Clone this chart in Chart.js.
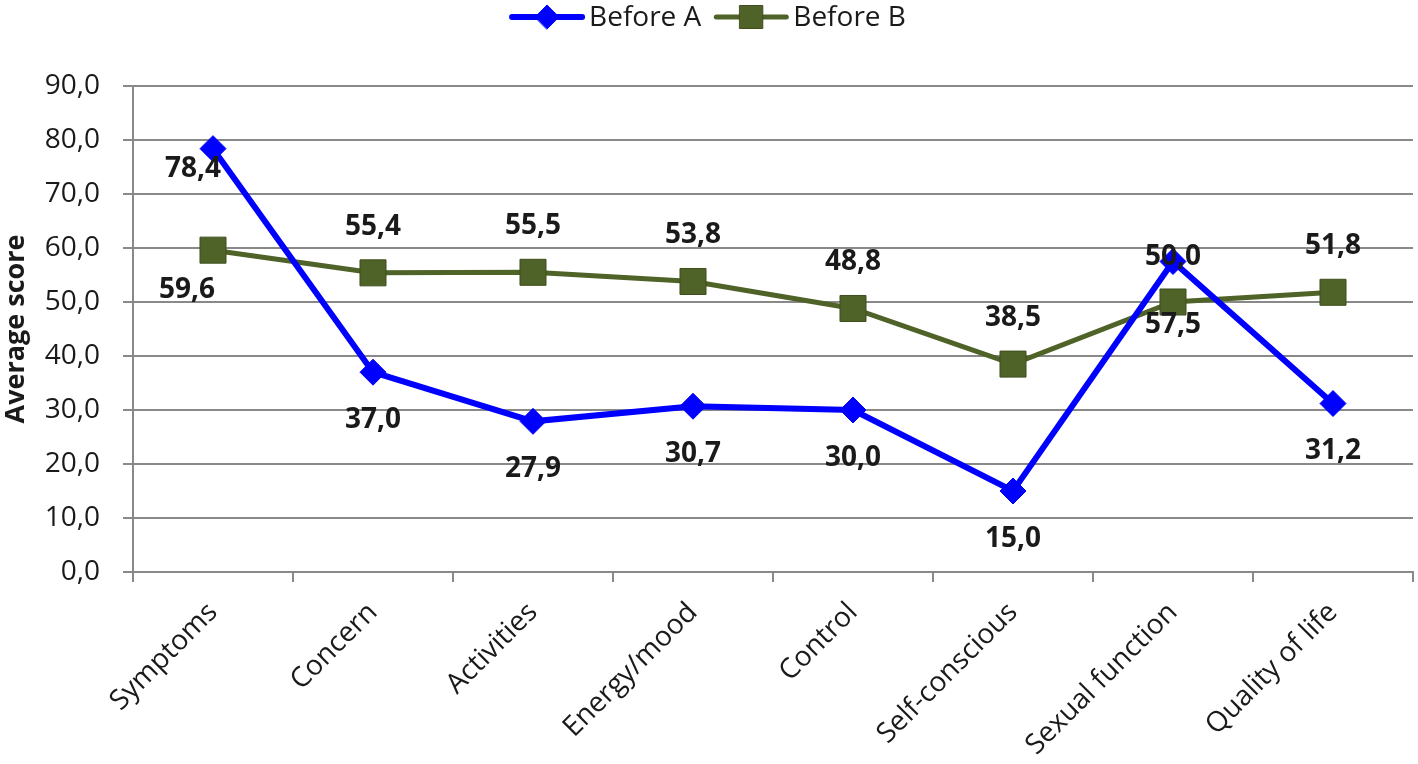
<!DOCTYPE html>
<html>
<head>
<meta charset="utf-8">
<title>Average score</title>
<script src="https://cdn.jsdelivr.net/npm/chart.js@4.4.1/dist/chart.umd.min.js"></script>
<style>
  html, body { margin: 0; padding: 0; background: #fff; }
  #wrap { width: 1418px; height: 764px; }
</style>
</head>
<body>
<div id="wrap"><canvas id="chart" width="1418" height="764"></canvas></div>
<script>
const categories = ["Symptoms", "Concern", "Activities", "Energy/mood", "Control", "Self-conscious", "Sexual function", "Quality of life"];
const beforeA = [78.4, 37.0, 27.9, 30.7, 30.0, 15.0, 57.5, 31.2];
const beforeB = [59.6, 55.4, 55.5, 53.8, 48.8, 38.5, 50.0, 51.8];
const yTicks = [0, 10, 20, 30, 40, 50, 60, 70, 80, 90];

// where each value label sits relative to its point (px)
const labelOffsetA = [[-20, 20], [0, 48], [0, 48], [0, 48], [0, 48], [0, 48], [0, 64], [0, 48]];
const labelOffsetB = [[-26, 40], [0, -46], [0, -46], [0, -46], [0, -46], [0, -46], [0, -45], [0, -46]];

const FONT = "'Open Sans', 'DejaVu Sans', sans-serif";
const BLUE = "#0000ff";
const GREEN = "#4f6228";
const GRID = "#898989";

function fmt(v) {
  return v.toFixed(1).replace(".", ",");
}

const valueLabels = {
  id: "valueLabels",
  afterDatasetsDraw(chart) {
    const ctx = chart.ctx;
    const offsets = [labelOffsetA, labelOffsetB];
    ctx.save();
    ctx.font = "bold 28px " + FONT;
    ctx.fillStyle = "#1a1a1a";
    ctx.textAlign = "center";
    ctx.textBaseline = "middle";
    chart.data.datasets.forEach((ds, i) => {
      const meta = chart.getDatasetMeta(i);
      meta.data.forEach((pt, j) => {
        const o = offsets[i][j];
        ctx.fillText(fmt(ds.data[j]), pt.x + o[0], pt.y + o[1]);
      });
    });
    ctx.restore();
  }
};

const topLegend = {
  id: "topLegend",
  afterDraw(chart) {
    const ctx = chart.ctx;
    const lineLen = 70;
    const gapText = 7;
    const gapItem = 15;
    const y = 17;
    ctx.save();
    ctx.font = "28px " + FONT;
    const items = chart.data.datasets.map(ds => ({ ds, w: ctx.measureText(ds.label).width }));
    let total = 0;
    items.forEach((it, i) => { total += lineLen + gapText + it.w + (i ? gapItem : 0); });
    let x = (chart.width - total) / 2;
    items.forEach((it, i) => {
      if (i) x += gapItem;
      const ds = it.ds;
      const cx = x + lineLen / 2;
      ctx.strokeStyle = ds.borderColor;
      ctx.lineWidth = ds.borderWidth;
      ctx.lineCap = "round";
      ctx.beginPath();
      ctx.moveTo(x, y);
      ctx.lineTo(x + lineLen, y);
      ctx.stroke();
      ctx.fillStyle = ds.pointBackgroundColor;
      ctx.strokeStyle = ds.pointBorderColor;
      ctx.lineWidth = 1;
      ctx.beginPath();
      if (ds.pointStyle === "rect") {
        ctx.rect(cx - 11.5, y - 11.5, 23, 23);
      } else {
        ctx.moveTo(cx - 12, y);
        ctx.lineTo(cx, y - 12);
        ctx.lineTo(cx + 12, y);
        ctx.lineTo(cx, y + 12);
        ctx.closePath();
      }
      ctx.fill();
      ctx.stroke();
      x += lineLen + gapText;
      ctx.fillStyle = "#1a1a1a";
      ctx.textAlign = "left";
      ctx.textBaseline = "middle";
      ctx.fillText(ds.label, x, y + 1);
      x += it.w;
    });
    ctx.restore();
  }
};

const chart = new Chart(document.getElementById("chart"), {
  type: "line",
  data: {
    labels: categories,
    datasets: [
      {
        label: "Before A",
        data: beforeA,
        borderColor: BLUE,
        backgroundColor: BLUE,
        borderWidth: 6,
        pointStyle: "rectRot",
        pointRadius: 13,
        pointBackgroundColor: BLUE,
        pointBorderColor: BLUE,
        pointBorderWidth: 1,
        tension: 0
      },
      {
        label: "Before B",
        data: beforeB,
        borderColor: GREEN,
        backgroundColor: GREEN,
        borderWidth: 5,
        pointStyle: "rect",
        pointRadius: 18.4,
        pointBackgroundColor: GREEN,
        pointBorderColor: "#3f4f1e",
        pointBorderWidth: 1,
        tension: 0
      }
    ]
  },
  options: {
    responsive: false,
    animation: false,
    layout: { autoPadding: false, padding: { top: 86, right: 5, left: 0, bottom: 0 } },
    plugins: {
      legend: { display: false },
      tooltip: { enabled: false }
    },
    scales: {
      x: {
        offset: true,
        afterFit(scale) {
          scale.height = 192;
          scale.paddingLeft = 0;
          scale.paddingRight = 0;
        },
        grid: {
          display: true,
          offset: true,
          drawOnChartArea: false,
          drawTicks: true,
          tickLength: 10,
          color: GRID,
          lineWidth: 2
        },
        border: { display: true, color: GRID, width: 2 },
        ticks: {
          color: "#1a1a1a",
          font: { family: FONT, size: 28 },
          minRotation: 45,
          maxRotation: 45,
          autoSkip: false,
          padding: 14
        }
      },
      y: {
        min: 0,
        max: 90,
        afterFit(scale) { scale.width = 133; },
        afterBuildTicks(scale) { scale.ticks = yTicks.map(v => ({ value: v })); },
        grid: {
          color: GRID,
          lineWidth: 2,
          tickLength: 10
        },
        border: { display: true, color: GRID, width: 2 },
        ticks: {
          color: "#1a1a1a",
          font: { family: FONT, size: 28 },
          padding: 23,
          callback: v => fmt(v)
        },
        title: {
          display: true,
          text: "Average score",
          color: "#1a1a1a",
          font: { family: FONT, size: 27, weight: "bold" },
          padding: 0
        }
      }
    }
  },
  plugins: [valueLabels, topLegend]
});
</script>
</body>
</html>
